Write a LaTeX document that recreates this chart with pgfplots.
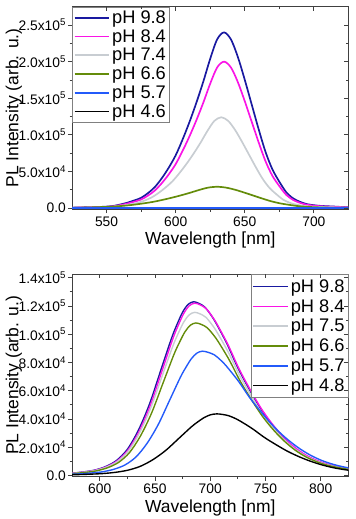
\documentclass[border=0pt]{standalone}
\usepackage{fontspec}
\setmainfont{Liberation Sans}
\usepackage{pgfplots}
\pgfplotsset{compat=1.18}
\definecolor{c98}{RGB}{25,25,160}
\definecolor{c84}{RGB}{250,20,230}
\definecolor{c74}{RGB}{200,205,210}
\definecolor{c66}{RGB}{100,140,10}
\definecolor{c57}{RGB}{35,90,250}
\definecolor{c46}{RGB}{0,0,0}
\pgfplotsset{
  common/.style={
    scale only axis, width=280pt, height=205pt,
    axis line style={draw=black!75, line width=0.8pt},
    every tick/.style={black!75, line width=0.8pt},
    major tick length=4pt, minor tick length=2.5pt,
    tick align=outside, xtick pos=left, ytick pos=left,
    minor x tick num=1, minor y tick num=1,
    scaled y ticks=false, scaled x ticks=false,
    tick label style={font=\fontsize{14}{15}\selectfont},
    yticklabel style={inner xsep=2pt},
    /pgf/number format/assume math mode=true,
    label style={font=\fontsize{17.7}{20}\selectfont},
    xlabel style={at={(axis description cs:0.5,-0.1756)}, anchor=base},
    ylabel style={at={(axis description cs:-0.2107,0.5)}, anchor=center},
    legend cell align=left,
    legend image code/.code={\draw[#1, line width=1.8pt] (2pt,0pt) -- (37pt,0pt);},
    every axis plot/.append style={line width=1.7pt, smooth},
  },
  mirror/.style={
    scale only axis, width=280pt, height=205pt,
    axis line style={draw=none},
    every tick/.style={black!75, line width=0.8pt},
    major tick length=4pt, minor tick length=2.5pt,
    tick align=inside, xtick pos=right, ytick pos=right,
    minor x tick num=1, minor y tick num=1,
    xticklabels={}, yticklabels={},
    scaled y ticks=false, scaled x ticks=false,
  },
}
\begin{document}
\begin{tikzpicture}
\path (-73pt,207pt) rectangle (281pt,-312pt);
% ---------------- top ----------------
\begin{axis}[common,
  xmin=525, xmax=725, ymin=-1500, ymax=275000,
  xtick={550,600,650,700},
  ytick={0,50000,100000,150000,200000,250000},
  yticklabels={0.0, 5.0x10\textsuperscript{4}, 1.0x10\textsuperscript{5}, 1.5x10\textsuperscript{5}, 2.0x10\textsuperscript{5}, 2.5x10\textsuperscript{5}},
  xlabel={Wavelength [nm]}, ylabel={PL Intensity (arb. u.)},
  legend style={at={(0,1)}, anchor=north west, draw=black!50, line width=0.6pt,
    font=\fontsize{18.5}{20}\selectfont, inner xsep=1.5pt, inner ysep=1.5pt, row sep=0.7pt},
]
\addplot[c98] coordinates {(525,480)(535,960)(545,1440)(550,1920)(555,2880)(560,4800)(565,7200)(570,10320)(575,13920)(580,20400)(585,28800)(590,40800)(595,55200)(600,72000)(605,93600)(610,117600)(615,144000)(620,172800)(625,204000)(630,230400)(635,240000)(640,230400)(645,206400)(650,175200)(655,141600)(660,108000)(665,76800)(670,52800)(675,36000)(680,21600)(685,13200)(690,8400)(695,5280)(700,3840)(705,2880)(715,1920)(725,960)};
\addlegendentry{pH 9.8}
\addplot[c84] coordinates {(525,400)(535,800)(545,1200)(550,1600)(555,2400)(560,4000)(565,6000)(570,8600)(575,11600)(580,17000)(585,24000)(590,34000)(595,46000)(600,60000)(605,78000)(610,98000)(615,120000)(620,144000)(625,170000)(630,192000)(635,200000)(640,192000)(645,172000)(650,146000)(655,118000)(660,90000)(665,64000)(670,44000)(675,30000)(680,18000)(685,11000)(690,7000)(695,4400)(700,3200)(705,2400)(715,1600)(725,800)};
\addlegendentry{pH 8.4}
\addplot[c74] coordinates {(523,248)(533,496)(543,744)(548,992)(553,1488)(558,2480)(563,3720)(568,5332)(573,7192)(578,10540)(583,14880)(588,21080)(593,28520)(598,37200)(603,48360)(608,60760)(613,74400)(618,89280)(623,105400)(628,119040)(633,124000)(638,119040)(643,106640)(648,90520)(653,73160)(658,55800)(663,39680)(668,27280)(673,18600)(678,11160)(683,6820)(688,4340)(693,2728)(698,1984)(703,1488)(713,992)(723,496)(733,300)};
\addlegendentry{pH 7.4}
\addplot[c66] coordinates {(500,116)(513,174)(519.5,232)(526,348)(532.5,580)(539,870)(545.5,1247)(552,1682)(558.5,2465)(565,3480)(571.5,4930)(578,6670)(584.5,8700)(591,11310)(597.5,14210)(604,17400)(610.5,20880)(617,24650)(623.5,27840)(630,29000)(636.5,27840)(643,24940)(649.5,21170)(656,17110)(662.5,13050)(669,9280)(675.5,6380)(682,4350)(688.5,2610)(695,1595)(701.5,1015)(708,638)(714.5,464)(721,348)(734,232)};
\addlegendentry{pH 6.6}
\addplot[c57] coordinates {(525,0)(725,0)};
\addlegendentry{pH 5.7}
\addplot[c46] coordinates {(525,0)(725,0)};
\addlegendentry{pH 4.6}
\addplot[c57, forget plot] coordinates {(525,0)(725,0)};
\end{axis}
\begin{axis}[mirror, xmin=525, xmax=725, ymin=-1500, ymax=275000,
  xtick={550,600,650,700}, ytick={0,50000,100000,150000,200000,250000}]
\end{axis}
% ---------------- bottom ----------------
\begin{axis}[common, at={(0pt,-271pt)},
  xmin=575, xmax=825, ymin=-800, ymax=142500,
  xtick={600,650,700,750,800},
  ytick={0,20000,40000,60000,80000,100000,120000,140000},
  yticklabels={0.0, 2.0x10\textsuperscript{4}, 4.0x10\textsuperscript{4}, 6.0x10\textsuperscript{4}, 8.0x10\textsuperscript{4}, 1.0x10\textsuperscript{5}, 1.2x10\textsuperscript{5}, 1.4x10\textsuperscript{5}},
  xlabel={Wavelength [nm]}, ylabel={PL Intensity (arb. u.)},
  legend style={at={(1,1)}, anchor=north east, draw=black!50, line width=0.6pt,
    font=\fontsize{18.5}{20}\selectfont, inner xsep=1.5pt, inner ysep=3pt, row sep=1.7pt},
  every axis plot/.append style={line width=1.4pt},
]
\addplot[c98] coordinates {(565,1110)(575,1600)(585,2460)(595,3690)(605,6150)(615,10450)(625,18450)(635,31980)(645,50430)(655,73800)(665,97170)(670,107010)(675,115620)(680,121155)(685,123000)(690,121770)(695,119310)(700,114390)(705,108240)(715,93480)(725,76260)(735,61500)(745,47970)(755,36900)(765,27675)(775,20295)(785,14760)(795,10824)(805,7995)(815,6150)(825,4551)};
\addlegendentry{pH 9.8}
\addplot[c84] coordinates {(566,1100)(576,1590)(586,2440)(596,3660)(606,6100)(616,10370)(626,18300)(636,31720)(646,50020)(656,73200)(666,96380)(671,106140)(676,114680)(681,120170)(686,122000)(691,120780)(696,118340)(701,113460)(706,107360)(716,92720)(726,75640)(736,61000)(746,47580)(756,36600)(766,27450)(776,20130)(786,14640)(796,10740)(806,7930)(816,6100)(826,4510)};
\addlegendentry{pH 8.4}
\addplot[c74] coordinates {(566,1040)(576,1500)(586,2310)(596,3470)(606,5780)(616,9820)(626,17330)(636,30030)(646,47360)(656,69300)(666,91250)(671,100490)(676,108570)(681,113770)(686,115500)(691,114350)(696,112040)(701,107420)(706,101640)(716,87780)(726,71610)(736,57750)(746,45050)(756,34650)(766,25990)(776,19060)(786,13860)(796,10160)(806,7510)(816,5780)(826,4270)};
\addlegendentry{pH 7.5}
\addplot[c66] coordinates {(567,970)(577,1400)(587,2160)(597,3240)(607,5400)(617,9180)(627,16200)(637,28080)(647,44280)(657,64800)(667,85320)(672,93960)(677,101520)(682,106380)(687,108000)(692,106920)(697,104760)(702,100440)(707,95040)(717,82080)(727,66960)(737,54000)(747,42120)(757,32400)(767,24300)(777,17820)(787,12960)(797,9500)(807,7020)(817,5400)(827,4000)};
\addlegendentry{pH 6.6}
\addplot[c57] coordinates {(573,790)(583,1140)(593,1760)(603,2640)(613,4400)(623,7480)(633,13200)(643,22880)(653,36080)(663,52800)(673,69520)(678,76560)(683,82720)(688,86680)(693,88000)(698.4,87120)(703.8,85360)(709.2,81840)(714.6,77440)(725.4,66880)(736.2,54560)(747,44000)(757.8,34320)(768.6,26400)(779.4,19800)(790.2,14520)(801,10560)(811.8,7740)(822.6,5720)(833.4,4400)};
\addlegendentry{pH 5.7}
\addplot[c46] coordinates {(568,390)(579.5,570)(591,870)(602.5,1310)(614,2180)(625.5,3710)(637,6540)(648.5,11340)(660,17880)(671.5,26160)(683,34440)(688.75,37930)(694.5,40980)(700.25,42950)(706,43600)(711.4,43160)(716.7,42290)(722.1,40550)(727.4,38370)(738.1,33140)(748.8,27030)(759.5,21800)(770.2,17000)(780.9,13080)(791.6,9810)(802.3,7190)(813,5230)(823.7,3840)(834.4,2830)};
\addlegendentry{pH 4.8}
\end{axis}
\begin{axis}[mirror, at={(0pt,-271pt)}, xmin=575, xmax=825, ymin=-800, ymax=142500,
  xtick={600,650,700,750,800}, ytick={0,20000,40000,60000,80000,100000,120000,140000}]
\end{axis}
\end{tikzpicture}
\end{document}
